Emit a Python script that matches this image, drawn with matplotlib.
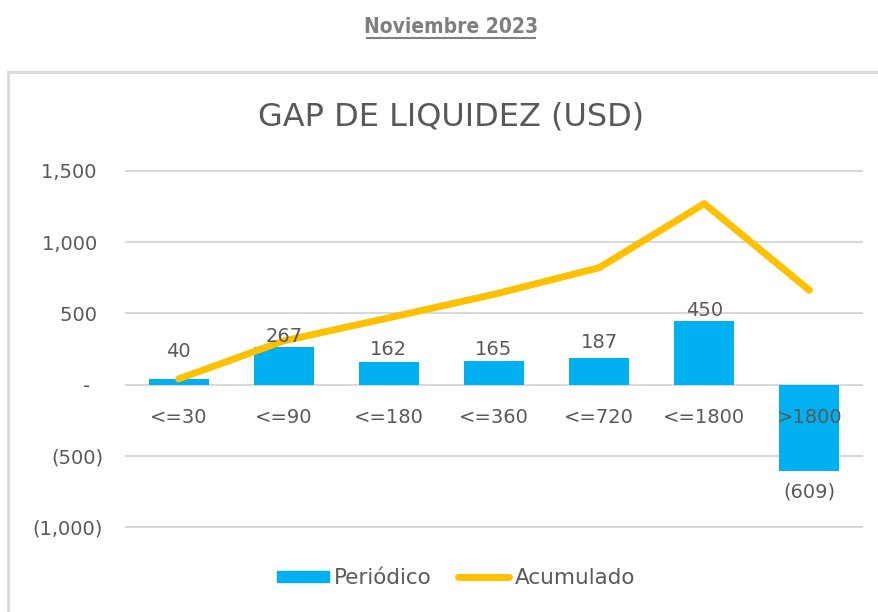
import matplotlib.pyplot as plt
import matplotlib.patches as mpatches
from matplotlib.lines import Line2D
import numpy as np

# data
categories = ['<=30', '<=90', '<=180', '<=360', '<=720', '<=1800', '>1800']
periodico = [40, 267, 162, 165, 187, 450, -609]
acumulado = [40, 307, 469, 634, 821, 1271, 662]
yticks = [-1000, -500, 0, 500, 1000, 1500]
ytick_labels = ['(1,000)', '(500)', '-  ', '500 ', '1,000 ', '1,500 ']

bar_color = '#00B0F0'
line_color = '#FFC000'
text_color = '#595959'
grid_color = '#D9D9D9'

plt.rcParams['font.family'] = ['DejaVu Sans']

fig = plt.figure(figsize=[8.79, 6.12], dpi=100)

# chart border
border = mpatches.Rectangle((8/879, -0.05), 1.0, 1 - 72/612 + 0.05, transform=fig.transFigure,
                            fill=False, edgecolor=grid_color, linewidth=2)
fig.patches.append(border)

# heading
fig.text(451/879, 1 - 27/612, 'Noviembre 2023', ha='center', va='center', fontsize=15,
         fontweight='bold', fontstretch='condensed', color='#7F7F7F',
         family=['DejaVu Sans'])
fig.add_artist(Line2D([367/879, 535/879], [1 - 38/612, 1 - 38/612], color='#7F7F7F', linewidth=1.5))

fig.text(451/879, 1 - 117/612, 'GAP DE LIQUIDEZ (USD)', ha='center', va='center',
         fontsize=23, color=text_color)

ax = fig.add_axes([126/879, 1 - 527/612, (862 - 126)/879, (527 - 171)/612])
x = np.arange(len(categories))
ax.set_xlim(-0.5, len(categories) - 0.5)
ax.set_ylim(-1000, 1500)

for y in yticks:
    ax.axhline(y, color=grid_color, linewidth=1.5, zorder=0, clip_on=False)

bars = ax.bar(x, periodico, width=0.57, color=bar_color, zorder=2)
ax.plot(x, acumulado, color=line_color, linewidth=5, solid_capstyle='round',
        solid_joinstyle='round', zorder=3)

# bar data labels (offsets as placed in the original)
label_dy = [20, 7, 8.5, 8.5, 11, 7, -15]
for i, v in enumerate(periodico):
    txt = str(v) if v >= 0 else '(%d)' % abs(v)
    ax.annotate(txt, (x[i], v), xytext=(0, label_dy[i]), textcoords='offset points',
                ha='center', va='center', fontsize=14, color=text_color, zorder=4)

# category labels next to zero line
for i, c in enumerate(categories):
    ax.annotate(c, (x[i], 0), xytext=(0, -23.5), textcoords='offset points',
                ha='center', va='center', fontsize=14, color=text_color, zorder=4)

ax.set_xticks([])
ax.set_yticks(yticks)
ax.set_yticklabels(ytick_labels)
ax.tick_params(axis='y', length=0, pad=16.5, labelsize=14, labelcolor=text_color)
for s in ax.spines.values():
    s.set_visible(False)

handles = [mpatches.Patch(color=bar_color, label='Periódico'),
           Line2D([0], [0], color=line_color, linewidth=5, solid_capstyle='round', label='Acumulado')]
leg = fig.legend(handles=handles, loc='center', bbox_to_anchor=(456/879, 1 - 578/612), ncol=2,
                 frameon=False, fontsize=15.5, handlelength=2.4, handleheight=0.45,
                 handletextpad=0.25, columnspacing=1.2)
for t in leg.get_texts():
    t.set_color(text_color)

fig.savefig('out.png', dpi=100)
